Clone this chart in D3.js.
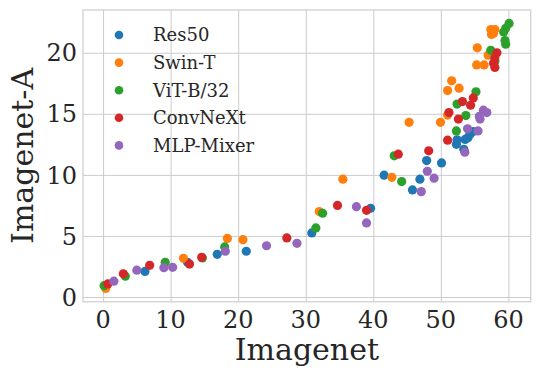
<!DOCTYPE html>
<html>
<head>
<meta charset="utf-8">
<script src="https://cdn.jsdelivr.net/npm/d3@7"></script>
<style>
body { margin: 0; background: #fff; }
text { font-family: "DejaVu Serif", serif; fill: #262626; }
</style>
</head>
<body>
<div id="chart"></div>
<script>
var width = 540
var height = 376

var seriesNames = ["Res50", "Swin-T", "ViT-B/32", "ConvNeXt", "MLP-Mixer"]
var seriesColors = ["#1f77b4", "#ff7f0e", "#2ca02c", "#d62728", "#9467bd"]
var xTicks = [0, 10, 20, 30, 40, 50, 60]
var yTicks = [0, 5, 10, 15, 20]

// [imagenet, imagenet-a] pairs
var res50 = [[6.2,2.1],[12.5,2.85],[16.9,3.5],[21.2,3.75],[30.9,5.25],[39.6,7.27],[41.6,9.98],[45.8,8.77],
  [46.9,9.65],[47.9,11.17],[50.1,10.98],[52.3,12.5],[52.4,12.87],[53.4,12.1],[53.6,12.9],[54.0,13.05],[54.3,13.3],[54.8,13.55]]
var swinT = [[0.4,0.7],[11.9,3.17],[18.4,4.8],[20.7,4.7],[32.0,7.0],[35.5,9.65],[42.75,9.8],[45.3,14.3],
  [49.95,14.3],[51.0,14.9],[51.0,16.9],[51.6,17.7],[52.7,17.1],[55.3,19.0],[56.4,19.0],[55.4,20.4],[57.0,19.8],
  [57.4,21.9],[58.0,21.9],[57.5,21.5],[57.8,21.6]]
var vitB32 = [[0.15,0.93],[3.3,1.7],[9.2,2.85],[14.7,3.2],[18.0,4.1],[31.5,5.66],[32.5,6.86],[43.1,11.56],
  [44.2,9.45],[52.3,13.6],[52.4,15.8],[53.7,14.86],[55.2,16.8],[57.4,20.2],[58.0,19.3],[59.5,21.0],[59.6,20.7],
  [59.3,21.7],[59.6,22.0],[60.1,22.4]]
var convNext = [[0.7,1.07],[3.0,1.9],[6.9,2.6],[12.8,2.7],[14.6,3.25],[27.2,4.84],[34.7,7.5],[39.0,7.1],
  [43.7,11.7],[48.2,11.97],[51.0,12.84],[51.2,15.1],[52.6,14.57],[53.2,16.0],[54.4,15.7],[54.8,16.3],[58.3,20.0],
  [58.0,19.6],[57.8,19.15],[58.0,18.8]]
var mlpMixer = [[1.6,1.3],[5.0,2.2],[9.0,2.4],[10.3,2.43],[18.1,3.75],[24.2,4.2],[28.7,4.4],[37.5,7.4],
  [39.0,6.07],[47.1,8.63],[48.0,10.3],[49.0,9.73],[53.55,11.86],[53.95,13.77],[55.5,13.6],[55.8,14.57],
  [55.7,14.8],[56.3,15.3],[56.8,15.1]]

var allSeries = [res50, swinT, vitB32, convNext, mlpMixer]

var plotLeft = 83, plotRight = 530.7, plotTop = 10, plotBottom = 301.8
var cx = d3.scaleLinear().domain([-2.97, 63.3]).range([plotLeft, plotRight])
var cy = d3.scaleLinear().domain([-0.39, 23.5]).range([plotBottom, plotTop])

var svg = d3.select("#chart")
    .append("svg")
    .attr("width", width)
    .attr("height", height)

// grid
svg.append("g")
    .attr("transform", "translate(0," + plotBottom + ")")
    .call(d3.axisBottom(cx).tickValues(xTicks).tickSize(-(plotBottom - plotTop)).tickFormat(""))
    .call(function(g){ g.select(".domain").remove() })
    .selectAll("line").attr("stroke", "#cccccc").attr("stroke-width", 1)
svg.append("g")
    .attr("transform", "translate(" + plotLeft + ",0)")
    .call(d3.axisLeft(cy).tickValues(yTicks).tickSize(-(plotRight - plotLeft)).tickFormat(""))
    .call(function(g){ g.select(".domain").remove() })
    .selectAll("line").attr("stroke", "#cccccc").attr("stroke-width", 1)

svg.append("rect")
    .attr("x", plotLeft).attr("y", plotTop)
    .attr("width", plotRight - plotLeft).attr("height", plotBottom - plotTop)
    .attr("fill", "none").attr("stroke", "#cccccc").attr("stroke-width", 1.2)

// tick labels
svg.append("g").selectAll("text")
    .data(xTicks)
    .enter().append("text")
    .attr("x", function(d){ return cx(d) })
    .attr("y", 327.5)
    .attr("text-anchor", "middle")
    .style("font-size", "24px")
    .text(function(d){ return d })
svg.append("g").selectAll("text")
    .data(yTicks)
    .enter().append("text")
    .attr("x", 77)
    .attr("y", function(d){ return cy(d) })
    .attr("dy", "0.36em")
    .attr("text-anchor", "end")
    .style("font-size", "24px")
    .text(function(d){ return d })

svg.append("text")
    .attr("x", (plotLeft + plotRight) / 2)
    .attr("y", 360)
    .attr("text-anchor", "middle")
    .style("font-size", "30px")
    .text("Imagenet")
svg.append("text")
    .attr("transform", "translate(33," + ((plotTop + plotBottom) / 2) + ") rotate(-90)")
    .attr("text-anchor", "middle")
    .style("font-size", "30px")
    .text("Imagenet-A")

// points
allSeries.forEach(function(data, i) {
  svg.append("g").selectAll("circle")
    .data(data)
    .enter().append("circle")
    .attr("cx", function(d){ return cx(d[0]) })
    .attr("cy", function(d){ return cy(d[1]) })
    .attr("r", 4.6)
    .attr("fill", seriesColors[i])
})

// legend
var legend = svg.append("g")
legend.selectAll("circle")
    .data(seriesNames)
    .enter().append("circle")
    .attr("cx", 119)
    .attr("cy", function(d, i){ return 35 + i * 27.6 })
    .attr("r", 4.3)
    .attr("fill", function(d, i){ return seriesColors[i] })
legend.selectAll("text")
    .data(seriesNames)
    .enter().append("text")
    .attr("x", 153)
    .attr("y", function(d, i){ return 35 + i * 27.6 })
    .attr("dy", "0.36em")
    .style("font-size", "18px")
    .text(function(d){ return d })
</script>
</body>
</html>
